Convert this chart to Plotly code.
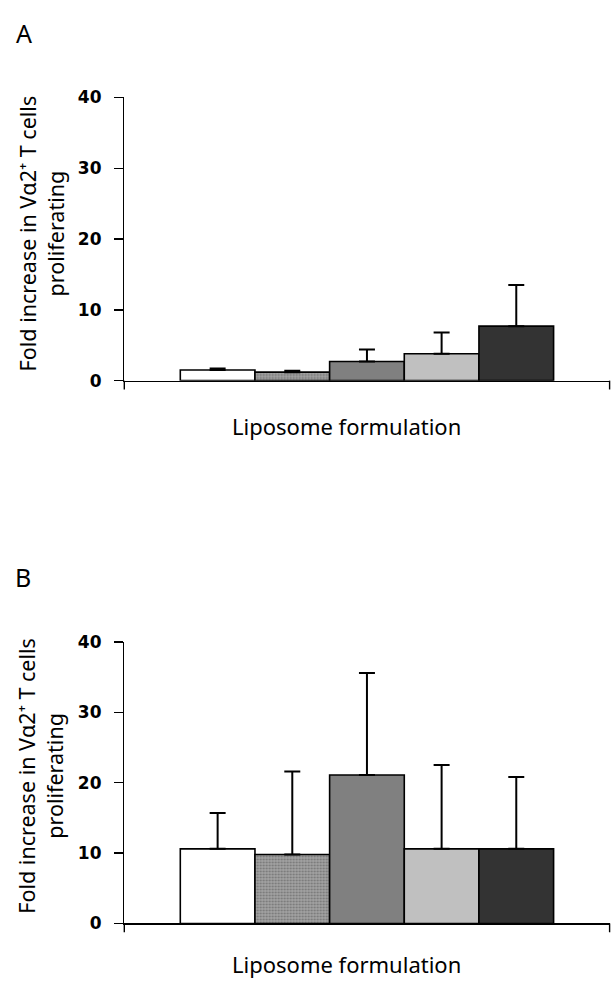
import plotly.graph_objects as go

W, H = 612, 989

formulations = ["F1", "F2", "F3", "F4", "F5"]
positions = [1, 2, 3, 4, 5]
bar_colors = ["#ffffff", "#a3a3a3", "#808080", "#c0c0c0", "#333333"]
bar_patterns = ["", ".", "", "", ""]

means_A = [1.5, 1.2, 2.7, 3.8, 7.7]
err_A = [0.2, 0.2, 1.7, 3.0, 5.8]

means_B = [10.6, 9.8, 21.1, 10.6, 10.6]
err_B = [5.1, 11.8, 14.5, 11.9, 10.2]

y_ticks = [0, 10, 20, 30, 40]

FONT = "Noto Sans"
TICKFONT = "DejaVu Sans"

def px_x(p):
    return p / W

def px_y(p):
    return 1 - p / H

fig = go.Figure()

for means, errs, xa, ya in [(means_A, err_A, "x", "y"), (means_B, err_B, "x2", "y2")]:
    fig.add_trace(go.Bar(
        x=positions, y=means, width=1,
        marker=dict(color=bar_colors,
                    line=dict(color="black", width=1.6),
                    pattern=dict(shape=bar_patterns, fgcolor="#5a5a5a",
                                 size=3, solidity=0.35)),
        error_y=dict(type="data", array=errs, arrayminus=[0]*len(errs),
                     symmetric=False, color="black", thickness=2, width=8),
        xaxis=xa, yaxis=ya, showlegend=False, hoverinfo="skip",
    ))

X_LEFT, X_RIGHT = 124.3, 609.6
xdom = [px_x(X_LEFT), px_x(X_RIGHT)]
common_x = dict(range=[-0.25, 6.25], showgrid=False, zeroline=False,
                showline=True, linecolor="black", linewidth=1.4,
                ticks="", showticklabels=False, domain=xdom)
common_y = dict(range=[0, 40], showgrid=False, zeroline=False,
                showline=True, linecolor="black", linewidth=1.4,
                ticks="outside", ticklen=9, tickwidth=1.4, tickcolor="black",
                tickvals=y_ticks, ticktext=[str(t) for t in y_ticks],
                tickfont=dict(family=TICKFONT, size=17, color="black", weight="bold"),
                ticklabelstandoff=9)

A_BOTTOM, A_TOP = 378.3, 89.3
B_BOTTOM, B_TOP = 932.3, 645.0

fig.update_layout(
    width=W, height=H,
    margin=dict(l=0, r=0, t=0, b=0),
    paper_bgcolor="white", plot_bgcolor="white",
    bargap=0,
    xaxis=dict(**common_x, anchor="y"),
    yaxis=dict(**common_y, domain=[px_y(A_BOTTOM), px_y(A_TOP)], anchor="x"),
    xaxis2=dict(**common_x, anchor="y2"),
    yaxis2=dict(**common_y, domain=[px_y(B_BOTTOM), px_y(B_TOP)], anchor="x2"),
)

# end ticks of the category axes (pointing down)
shapes = []
for base in (A_BOTTOM, B_BOTTOM):
    for xp in (X_LEFT, X_RIGHT):
        shapes.append(dict(type="line", xref="paper", yref="paper",
                           x0=px_x(xp), x1=px_x(xp),
                           y0=px_y(base), y1=px_y(base + 9),
                           line=dict(color="black", width=1.4)))
fig.update_layout(shapes=shapes)

ytitle = "Fold increase in Vα2⁺ T cells<br>proliferating"
annotations = [
    dict(text="A", x=px_x(24.5), y=px_y(23), font=dict(size=25)),
    dict(text="B", x=px_x(23), y=px_y(579), font=dict(size=25)),
    dict(text=ytitle, x=px_x(41), y=px_y(228), textangle=-90, font=dict(size=21.5)),
    dict(text=ytitle, x=px_x(41), y=px_y(781.5), textangle=-90, font=dict(size=21.5)),
    dict(text="Liposome formulation", x=px_x(346.5), y=px_y(425), font=dict(size=22)),
    dict(text="Liposome formulation", x=px_x(346.5), y=px_y(974), font=dict(size=22)),
]
for a in annotations:
    a.update(xref="paper", yref="paper", showarrow=False,
             xanchor="center", yanchor="middle")
    a["font"].update(family=FONT, color="black")
fig.update_layout(annotations=annotations)

fig.write_html(
    "out.html",
    config={"displayModeBar": False, "staticPlot": True},
    post_script="document.body.style.margin='0';document.body.style.overflow='hidden';",
)
